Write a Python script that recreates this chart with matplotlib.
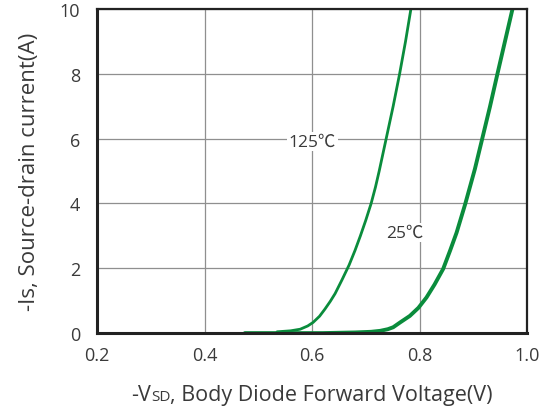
import matplotlib.pyplot as plt
from matplotlib.offsetbox import TextArea, HPacker, AnchoredOffsetbox

# Is vs VSD curves
v_125 = [0.535, 0.56, 0.578, 0.592, 0.602, 0.614, 0.624, 0.634, 0.643, 0.656, 0.669,
         0.680, 0.690, 0.700, 0.710, 0.718, 0.725, 0.738, 0.751, 0.763, 0.774, 0.784]
i_125 = [0.04, 0.07, 0.12, 0.22, 0.33, 0.52, 0.74, 0.98, 1.22, 1.65, 2.1,
         2.55, 3.0, 3.48, 4.0, 4.5, 5.0, 6.0, 7.0, 8.0, 9.0, 10.0]
v_25 = [0.475, 0.55, 0.62, 0.68, 0.71, 0.727, 0.741, 0.751, 0.764, 0.782, 0.798, 0.813,
        0.828, 0.844, 0.857, 0.869, 0.885, 0.903, 0.916, 0.931, 0.945, 0.959, 0.973]
i_25 = [0.0, 0.0, 0.0, 0.02, 0.04, 0.07, 0.12, 0.18, 0.33, 0.53, 0.78, 1.1,
        1.5, 1.98, 2.55, 3.1, 3.98, 5.06, 5.95, 6.98, 8.0, 9.0, 10.0]

x_ticks = [0.2, 0.4, 0.6, 0.8, 1.0]
y_ticks = [0, 2, 4, 6, 8, 10]

plt.rcParams['font.family'] = ['Open Sans', 'Noto Sans CJK SC', 'DejaVu Sans']
txt_col = '#3a3a3a'

fig = plt.figure(figsize=(5.45, 4.14), dpi=100)
ax = fig.add_axes([0.178, 0.193, 0.789, 0.783])

green = '#0a8c3c'
ax.plot(v_125, i_125, color=green, lw=2.0, solid_capstyle='round', solid_joinstyle='round')
ax.plot(v_25, i_25, color=green, lw=2.8, solid_capstyle='round', solid_joinstyle='round')

ax.set_xlim(0.2, 1.0)
ax.set_ylim(0, 10)
ax.set_xticks(x_ticks)
ax.set_xticklabels(['0.2', '0.4', '0.6', '0.8', '1.0'])
ax.set_yticks(y_ticks)
ax.grid(True, color='#8f8f8f', lw=0.9)
ax.set_axisbelow(True)
ax.tick_params(length=0, labelsize=13, labelcolor=txt_col)
ax.tick_params(axis='x', pad=9)
ax.tick_params(axis='y', pad=12)

for side in ['left', 'bottom']:
    ax.spines[side].set_linewidth(2.2)
for side in ['top', 'right']:
    ax.spines[side].set_linewidth(1.6)
for s in ax.spines.values():
    s.set_color('#222222')

box = dict(facecolor='white', edgecolor='none', pad=1)
ax.text(0.601, 5.9, '125℃', ha='center', va='center', fontsize=12.5, color=txt_col, bbox=box)
ax.text(0.772, 3.1, '25℃', ha='center', va='center', fontsize=12.5, color=txt_col, bbox=box)

# x label with small "SD"
lab_props = dict(fontsize=15.5, color=txt_col)
parts = [TextArea('-V', textprops=lab_props),
         TextArea('SD', textprops=dict(fontsize=11, color=txt_col)),
         TextArea(', Body Diode Forward Voltage(V)', textprops=lab_props)]
xlab = AnchoredOffsetbox(loc='center', child=HPacker(children=parts, align='baseline', pad=0, sep=0),
                         frameon=False, bbox_to_anchor=(0.5, -0.19),
                         bbox_transform=ax.transAxes, borderpad=0, pad=0)
ax.add_artist(xlab)

ax.set_ylabel('-Is, Source-drain current(A)', fontsize=16, color=txt_col, labelpad=14)

fig.savefig('out.png', dpi=100)
